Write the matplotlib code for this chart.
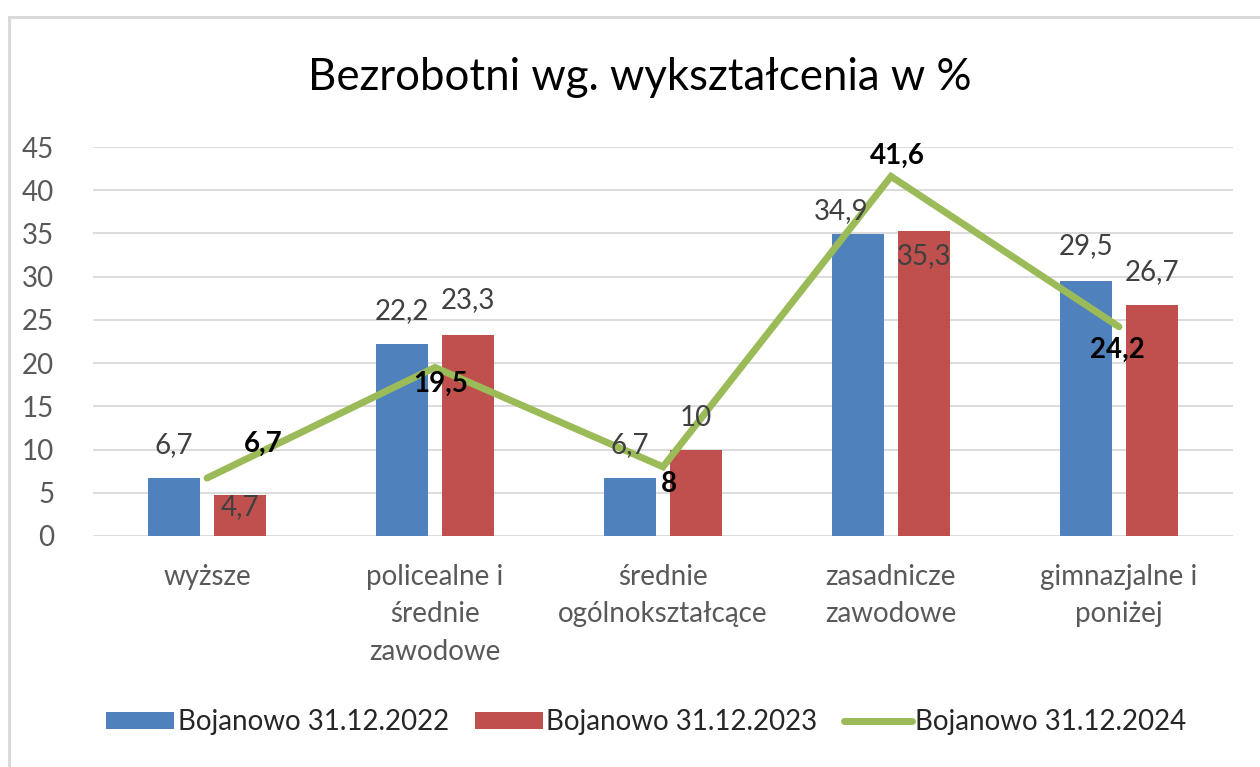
import matplotlib
matplotlib.use("Agg")
import matplotlib.pyplot as plt
from matplotlib.patches import Rectangle
import numpy as np

plt.rcParams["font.family"] = ["Lato", "DejaVu Sans"]

# dane
categories = ["wyższe", "policealne i\nśrednie\nzawodowe", "średnie\nogólnokształcące",
              "zasadnicze\nzawodowe", "gimnazjalne i\nponiżej"]
series_names = ["Bojanowo 31.12.2022", "Bojanowo 31.12.2023", "Bojanowo 31.12.2024"]
v2022 = [6.7, 22.2, 6.7, 34.9, 29.5]
v2023 = [4.7, 23.3, 10, 35.3, 26.7]
v2024 = [6.7, 19.5, 8, 41.6, 24.2]

# przesunięcia etykiet (px) – ręcznie, jak w oryginale
off2022 = [(0, 33), (0, 33), (0, 33), (-17, 23), (0, 35)]
off2023 = [(0, -12), (0, 35), (0, 32), (0, -25), (0, 33)]
off2024 = [(56, 34), (6, -16), (6, -17), (6, 21), (-2, -23)]

BLUE, RED, GREEN = "#4F81BD", "#C0504D", "#9BBB59"
GRID = "#D9D9D9"
MUTED = "#595959"
LABEL = "#404040"
FS = 20


def fmt(v):
    return f"{v:g}".replace(".", ",")


W, H = 1260, 767
fig = plt.figure(figsize=(W / 100, H / 100), dpi=100)
ax = fig.add_axes([93 / W, 1 - 536 / H, (1233 - 93) / W, (536 - 147) / H])

x = np.arange(len(categories))
bw, shift = 0.228, 0.145
b1 = ax.bar(x - shift, v2022, bw, color=BLUE, zorder=3)
b2 = ax.bar(x + shift, v2023, bw, color=RED, zorder=3)
ln, = ax.plot(x, v2024, color=GREEN, lw=5, solid_capstyle="round", solid_joinstyle="miter",
              zorder=4)

for xi, v, (dx, dy) in zip(x - shift, v2022, off2022):
    ax.annotate(fmt(v), (xi, v), xytext=(dx, dy), textcoords="offset pixels",
                ha="center", va="center", fontsize=FS, color=LABEL, zorder=5)
for xi, v, (dx, dy) in zip(x + shift, v2023, off2023):
    ax.annotate(fmt(v), (xi, v), xytext=(dx, dy), textcoords="offset pixels",
                ha="center", va="center", fontsize=FS, color=LABEL, zorder=5)
for xi, v, (dx, dy) in zip(x, v2024, off2024):
    ax.annotate(fmt(v), (xi, v), xytext=(dx, dy), textcoords="offset pixels",
                ha="center", va="center", fontsize=FS, fontweight="bold",
                color="black", zorder=6)

ax.set_xlim(-0.5, len(categories) - 0.5)
ax.set_ylim(0, 45)
ax.set_yticks(range(0, 46, 5))
ax.yaxis.grid(True, color=GRID, lw=1.3, zorder=0)
ax.set_axisbelow(True)
ax.set_xticks(x)
ax.set_xticklabels(categories, fontsize=FS, color=MUTED, linespacing=1.55, va="top")
ax.tick_params(axis="y", length=0, labelsize=FS, labelcolor=MUTED, pad=28)
ax.tick_params(axis="x", length=0, pad=20)
for s in ax.spines.values():
    s.set_visible(False)

fig.text(0.508, 1 - 78 / H, "Bezrobotni wg. wykształcenia w %", ha="center", va="center",
         fontsize=31.5, color="black")

fig.legend([b1, b2, ln], series_names, loc="center", bbox_to_anchor=(0.513, 1 - 722 / H),
           ncol=3, frameon=False, fontsize=20, handlelength=2.45, handleheight=0.55,
           handletextpad=0.12, columnspacing=0.95, labelcolor="#262626")

# ramka wykresu
fig.patches.append(Rectangle((8.5 / W, -0.05), 1.1, (H - 16.5) / H + 0.05,
                             transform=fig.transFigure, fill=False,
                             edgecolor=GRID, lw=2.2, zorder=0))

fig.savefig("out.png", dpi=100)
